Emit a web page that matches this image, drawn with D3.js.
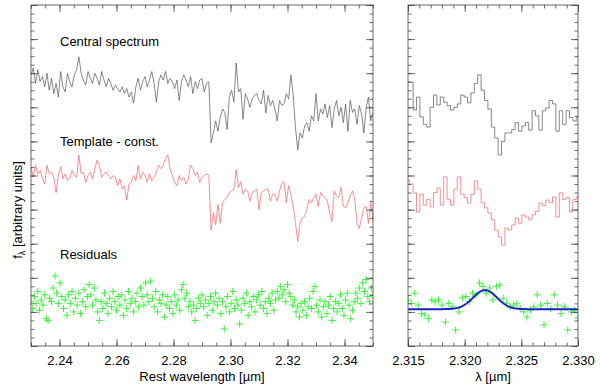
<!DOCTYPE html>
<html>
<head>
<meta charset="utf-8">
<script src="https://cdn.jsdelivr.net/npm/d3@7/dist/d3.min.js"></script>
<style>
  body { margin: 0; background: #fff; }
  text { font-family: "Liberation Sans", Arial, sans-serif; }
</style>
</head>
<body>
<svg id="chart" width="600" height="386"></svg>
<script>
// wavelength grids (micron)
const specStart = 2.23
const specStep = 0.0008
const residStep = 0.0006
const zoomStart = 2.315
const zoomStep = 0.0003

// left panel, full range
const centralFlux = [
  7.95, 8.15, 7.7, 8.1, 7.75, 7.9, 7.6, 8.0, 7.5, 7.85,
  7.4, 7.7, 7.3, 8.05, 7.6, 7.45, 8.0, 7.75, 7.6, 7.95,
  8.1, 8.48, 8.0, 7.8, 7.65, 8.05, 7.85, 7.7, 8.0, 7.85,
  7.65, 8.05, 7.8, 7.6, 7.85, 7.7, 7.5, 7.65, 7.55, 7.45,
  7.6, 7.4, 7.55, 7.3, 7.45, 7.12, 7.6, 7.85, 7.5, 7.75,
  7.9, 7.6, 7.8, 8.05, 7.7, 7.15, 7.75, 7.95, 7.8, 8.05,
  7.7, 7.85, 7.75, 7.55, 7.8, 7.2, 7.75, 7.95, 7.8, 7.6,
  7.9, 7.4, 7.75, 7.55, 7.8, 7.85, 7.45, 7.7, 7.75, 5.95,
  6.25, 6.6, 6.3, 6.7, 6.95, 6.85, 6.35, 7.3, 7.5, 7.15,
  8.3, 7.45, 7.55, 6.65, 7.4, 7.25, 7.0, 7.25, 7.35, 7.4,
  7.2, 7.1, 7.5, 6.83, 7.35, 7.05, 7.2, 6.95, 6.6, 7.2,
  7.05, 7.1, 7.4, 7.25, 7.95, 7.35, 6.4, 5.75, 6.25, 6.1,
  6.45, 6.55, 6.3, 6.75, 6.6, 7.4, 6.6, 6.95, 6.8, 7.1,
  6.7, 7.05, 6.4, 6.95, 7.2, 6.75, 7.0, 6.55, 7.1, 6.3,
  7.2, 6.85, 6.95, 6.5, 7.05, 6.8, 6.25, 7.0, 7.3, 6.6,
  6.85
]
const templateFlux = [
  5.26, 4.95, 5.3, 5.06, 5.15, 4.9, 4.75, 5.3, 5.05, 5.1,
  4.95, 4.5, 5.0, 5.26, 4.9, 5.05, 4.85, 4.9, 5.15, 5.0,
  4.95, 5.6, 5.05, 5.1, 4.8, 5.0, 5.1, 4.9, 5.2, 5.45,
  5.3, 4.95, 5.05, 5.1, 5.0, 4.9, 5.0, 4.95, 4.7, 4.9,
  4.6, 4.7, 4.28, 4.75, 4.8, 5.0, 4.85, 5.3, 4.9, 5.1,
  5.0, 4.8, 5.05, 4.85, 4.95, 5.1, 5.3, 5.2, 5.3, 5.5,
  5.6, 5.2, 5.0, 4.8, 4.7, 5.0, 4.85, 4.95, 4.75, 4.9,
  5.3, 5.2, 5.0, 5.1, 4.8, 4.95, 5.0, 5.05, 5.0, 3.4,
  3.9, 3.55, 4.15, 3.6, 4.2, 4.3, 4.35, 4.5, 4.55, 4.6,
  5.16, 4.65, 4.82, 4.45, 4.6, 4.55, 4.25, 4.5, 4.55, 4.6,
  4.0, 4.5, 4.55, 4.6, 4.6, 4.25, 4.45, 4.45, 4.25, 4.55,
  4.77, 4.82, 4.2, 4.7, 4.45, 4.1, 3.6, 3.06, 3.6, 3.75,
  3.8, 4.0, 4.3, 4.2, 4.35, 4.45, 4.1, 4.5, 4.4, 4.35,
  4.25, 3.9, 3.65, 4.55, 4.4, 4.35, 4.65, 4.1, 4.05, 4.2,
  4.4, 4.55, 4.3, 3.6, 3.45, 3.75, 4.05, 4.1, 3.6, 4.2,
  3.65
]
const residFlux = [
  1.3, 1.1, 1.45, 1.25, 1.6, 1.05, 1.35, 1.2, 1.5, 0.8,
  0.75, 1.4, 1.3, 1.7, 2.05, 1.55, 1.25, 1.85, 1.45, 1.1,
  1.35, 0.9, 1.5, 1.25, 1.6, 1.0, 1.4, 1.2, 1.55, 0.95,
  1.3, 1.65, 1.15, 1.45, 1.8, 1.5, 1.2, 1.7, 1.35, 1.0,
  0.75, 1.3, 1.1, 1.55, 1.25, 0.95, 1.4, 1.15, 1.6, 1.3,
  1.05, 1.45, 1.2, 1.5, 0.9, 1.35, 1.1, 1.6, 1.25, 1.4,
  1.0, 1.3, 1.55, 1.15, 1.7, 1.45, 1.2, 1.85, 1.5, 1.3,
  1.9, 1.4, 1.15, 1.6, 1.0, 1.35, 1.25, 1.5, 0.85, 1.2,
  1.45, 1.1, 1.3, 0.95, 1.5, 1.2, 1.35, 1.05, 1.65, 1.8,
  1.4, 1.55, 1.15, 1.3, 1.0, 1.2, 0.75, 1.1, 1.4, 1.25,
  1.5, 1.15, 1.35, 0.9, 1.25, 1.45, 1.05, 1.3, 1.55, 1.2,
  1.4, 0.95, 1.3, 0.5, 1.15, 1.45, 1.0, 1.25, 1.6, 1.1,
  1.35, 1.2, 0.65, 1.05, 1.4, 1.25, 1.55, 0.9, 1.3, 1.15,
  1.45, 1.0, 1.35, 1.5, 1.2, 1.6, 1.1, 1.3, 0.95, 1.4,
  1.25, 1.55, 1.05, 1.35, 1.6, 1.4, 1.75, 1.5, 1.65, 1.3,
  1.8, 1.55, 1.45, 1.2, 1.35, 1.0, 1.15, 0.85, 1.25, 1.05,
  1.3, 0.9, 1.15, 1.4, 1.1, 1.6, 1.75, 1.2, 1.0, 1.35,
  0.85, 1.15, 1.3, 0.95, 1.2, 1.45, 0.75, 1.1, 1.3, 1.0,
  1.25, 1.5, 1.1, 0.9, 1.35, 1.55, 1.2, 0.8, 1.05, 1.3,
  1.55, 1.4, 1.7, 1.25, 1.85, 1.6, 1.95, 1.45, 1.3, 1.7,
  1.5
]

// right panel, zoom on the 2.3227 feature
const centralZoom = [
  7.74, 7.74, 6.92, 7.3, 6.72, 6.5, 6.42, 7.0, 7.36, 7.07,
  7.3, 7.15, 7.05, 6.92, 7.0, 7.1, 7.36, 7.3, 7.13, 7.42,
  7.7, 7.95, 7.5, 7.2, 6.95, 6.42, 6.1, 5.6, 6.0, 6.25,
  6.25, 6.35, 6.55, 6.3, 6.45, 6.55, 6.33, 6.9, 6.75, 6.33,
  6.9, 6.98, 7.2, 7.1, 6.3, 6.9, 6.5, 6.9, 6.7, 6.6, 6.72
]
const templateZoom = [
  4.87, 4.75, 4.49, 3.93, 4.45, 4.13, 4.3, 4.08, 4.5, 4.63,
  4.13, 4.96, 4.3, 4.13, 4.6, 4.96, 4.45, 4.35, 4.19, 4.45,
  4.84, 4.6, 4.2, 4.05, 3.9, 3.7, 3.4, 3.2, 2.96, 3.46,
  3.4, 3.55, 3.75, 3.6, 3.84, 3.78, 3.7, 3.85, 3.95, 4.19,
  4.12, 4.28, 4.2, 4.37, 3.78, 4.49, 4.3, 4.35, 3.93, 4.3, 4.37
]
const residZoom = [
  1.35, 1.25, 1.55, 1.2, 0.95, 0.91, 0.8, 1.35, 1.3, 1.35,
  1.2, 0.7, 1.25, 1.15, 0.47, 1.0, 1.41, 1.45, 1.3, 1.55,
  1.5, 1.85, 1.75, 1.55, 1.7, 1.35, 1.75, 1.79, 1.4, 1.26,
  1.15, 1.2, 1.24, 1.1, 1.0, 0.85, 1.05, 1.15, 1.5, 1.2,
  0.62, 1.25, 1.1, 1.5, 1.2, 0.95, 1.15, 0.47, 1.0, 1.05, 0.82
]

// gaussian fit to the residuals
const fitCenter = 2.3218
const fitSigma = 0.00105
const fitAmp = 0.56
const fitBase = 1.08

const leftTicks = ["2.24", "2.26", "2.28", "2.30", "2.32", "2.34"]
const rightTicks = ["2.315", "2.320", "2.325", "2.330"]

const svg = d3.select('#chart')
const plotTop = 5, plotBottom = 346
const grayColor = '#555555'
const redColor = '#f26262'
const greenColor = '#3cf03c'
const blueColor = '#1c24c8'

const xLeft = d3.scaleLinear().domain([2.23, 2.35]).range([31, 373])
const xRight = d3.scaleLinear().domain([2.315, 2.330]).range([408, 578])
const y = d3.scaleLinear().domain([0, 10]).range([plotBottom, plotTop])

const defs = svg.append('defs')
defs.append('clipPath').attr('id', 'clipL')
  .append('rect').attr('x', 31).attr('y', plotTop).attr('width', 342).attr('height', plotBottom - plotTop)
defs.append('clipPath').attr('id', 'clipR')
  .append('rect').attr('x', 408).attr('y', plotTop).attr('width', 170).attr('height', plotBottom - plotTop)

const drawFrame = (x, majors, minorStep) => {
  const [x0, x1] = x.range()
  const d0 = x.domain()[0], d1 = x.domain()[1]
  const minors = d3.range(0, Math.round((d1 - d0) / minorStep) + 1).map(k => d0 + k * minorStep)
  const yMajor = d3.range(0, 11)
  const yMinor = d3.range(0, 41).map(k => k * 0.25)

  const g = svg.append('g')
  const style = sel => {
    sel.select('.domain').remove()
    sel.selectAll('line').attr('stroke', '#444').attr('stroke-width', 0.8)
    sel.selectAll('text').attr('fill', '#000').style('font-size', '13px')
      .style('font-family', '"Liberation Sans", Arial, sans-serif')
  }
  g.append('g').attr('transform', `translate(0,${plotBottom})`)
    .call(d3.axisBottom(x).tickValues(majors.map(Number)).tickSize(-7).tickPadding(10).tickFormat((d, i) => majors[i]))
    .call(style)
  g.append('g').attr('transform', `translate(0,${plotBottom})`)
    .call(d3.axisBottom(x).tickValues(minors).tickSize(-3.5).tickFormat(''))
    .call(style)
  g.append('g').attr('transform', `translate(0,${plotTop})`)
    .call(d3.axisTop(x).tickValues(majors.map(Number)).tickSize(-7).tickFormat(''))
    .call(style)
  g.append('g').attr('transform', `translate(0,${plotTop})`)
    .call(d3.axisTop(x).tickValues(minors).tickSize(-3.5).tickFormat(''))
    .call(style)
  g.append('g').attr('transform', `translate(${x0},0)`)
    .call(d3.axisLeft(y).tickValues(yMajor).tickSize(-7).tickFormat(''))
    .call(style)
  g.append('g').attr('transform', `translate(${x0},0)`)
    .call(d3.axisLeft(y).tickValues(yMinor).tickSize(-3.5).tickFormat(''))
    .call(style)
  g.append('g').attr('transform', `translate(${x1},0)`)
    .call(d3.axisRight(y).tickValues(yMajor).tickSize(-7).tickFormat(''))
    .call(style)
  g.append('g').attr('transform', `translate(${x1},0)`)
    .call(d3.axisRight(y).tickValues(yMinor).tickSize(-3.5).tickFormat(''))
    .call(style)

  g.append('rect')
    .attr('x', x0).attr('y', plotTop)
    .attr('width', x1 - x0).attr('height', plotBottom - plotTop)
    .attr('fill', 'none').attr('stroke', '#444').attr('stroke-width', 0.8)
}

const spectrumLine = (x, start, step, curve) => d3.line()
  .x((d, i) => x(start + i * step))
  .y(d => y(d))
  .curve(curve)

const crosses = (x, start, step, values) => values.map((v, i) => {
  const cx = x(start + i * step), cy = y(v)
  return `M${cx - 3.5},${cy}h7M${cx},${cy - 3.5}v7`
}).join('')

// left panel
const left = svg.append('g').attr('clip-path', 'url(#clipL)')
left.append('path')
  .attr('d', spectrumLine(xLeft, specStart, specStep, d3.curveLinear)(centralFlux))
  .attr('fill', 'none').attr('stroke', grayColor).attr('stroke-width', 0.7)
left.append('path')
  .attr('d', spectrumLine(xLeft, specStart, specStep, d3.curveLinear)(templateFlux))
  .attr('fill', 'none').attr('stroke', redColor).attr('stroke-width', 0.7)
left.append('path')
  .attr('d', crosses(xLeft, specStart, residStep, residFlux))
  .attr('fill', 'none').attr('stroke', greenColor).attr('stroke-width', 1)

// right panel
const right = svg.append('g').attr('clip-path', 'url(#clipR)')
right.append('path')
  .attr('d', spectrumLine(xRight, zoomStart, zoomStep, d3.curveStep)(centralZoom))
  .attr('fill', 'none').attr('stroke', grayColor).attr('stroke-width', 0.7)
right.append('path')
  .attr('d', spectrumLine(xRight, zoomStart, zoomStep, d3.curveStep)(templateZoom))
  .attr('fill', 'none').attr('stroke', redColor).attr('stroke-width', 0.7)
right.append('path')
  .attr('d', crosses(xRight, zoomStart, zoomStep, residZoom))
  .attr('fill', 'none').attr('stroke', greenColor).attr('stroke-width', 1)

const fitX = d3.range(0, 151).map(k => 2.315 + k * 0.0001)
right.append('path')
  .attr('d', d3.line()
    .x(d => xRight(d))
    .y(d => y(fitBase + fitAmp * Math.exp(-0.5 * ((d - fitCenter) / fitSigma) ** 2)))(fitX))
  .attr('fill', 'none').attr('stroke', blueColor).attr('stroke-width', 2)

drawFrame(xLeft, leftTicks, 0.005)
drawFrame(xRight, rightTicks, 0.001)

// labels
const label = (x, yy, txt) => svg.append('text')
  .attr('x', x).attr('y', yy).text(txt)
  .style('font-size', '13px').attr('fill', '#000')

label(60, 46, 'Central spectrum')
label(60, 146, 'Template - const.')
label(60, 259, 'Residuals')

svg.append('text')
  .attr('x', 202).attr('y', 381)
  .attr('text-anchor', 'middle')
  .style('font-size', '13px')
  .text('Rest wavelength [\u00b5m]')

svg.append('text')
  .attr('x', 493).attr('y', 381)
  .attr('text-anchor', 'middle')
  .style('font-size', '13px')
  .text('\u03bb [\u00b5m]')

const yTitle = svg.append('text')
  .attr('transform', 'translate(22,210) rotate(-90)')
  .attr('text-anchor', 'middle')
  .style('font-size', '13px')
yTitle.append('tspan').text('f')
yTitle.append('tspan').text('\u03bb').style('font-size', '9px').attr('dy', 3)
yTitle.append('tspan').text(' [arbitrary units]').attr('dy', -3)
</script>
</body>
</html>
